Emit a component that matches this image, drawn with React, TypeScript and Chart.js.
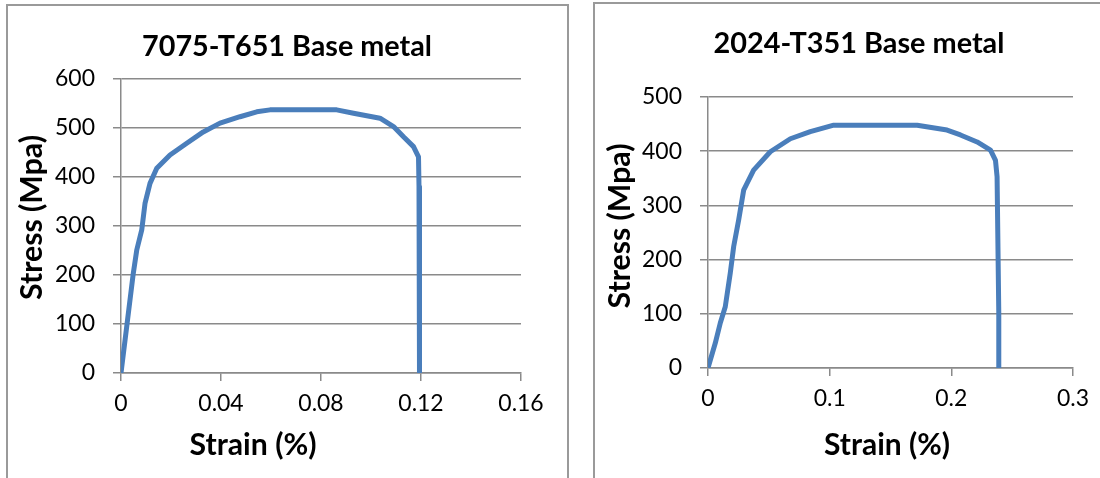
import React, { useEffect, useRef } from 'react';
import { Chart, registerables } from 'chart.js';

Chart.register(...registerables);

// ---- data: 7075-T651 ----
const strain7075 = [0, 0.0049, 0.0063, 0.0083, 0.0096, 0.0116, 0.0143, 0.0196, 0.0263, 0.0329, 0.0396, 0.0476, 0.0543, 0.0596, 0.0716, 0.0863, 0.093, 0.1036, 0.109, 0.113, 0.117, 0.119, 0.1192, 0.1194];
const stress7075 = [0, 203, 251, 292, 346, 387, 418, 445, 469, 492, 510, 523, 533, 537, 537, 537, 530, 520, 503, 482, 462, 441, 380, 0];
const xTicks7075 = [0, 0.04, 0.08, 0.12, 0.16];
const xTickLabels7075 = ['0', '0.04', '0.08', '0.12', '0.16'];
const yTicks7075 = [0, 100, 200, 300, 400, 500, 600];
const yTickLabels7075 = ['0', '100', '200', '300', '400', '500', '600'];
const title7075 = '7075-T651 Base metal';

// ---- data: 2024-T351 ----
const strain2024 = [0, 0.006, 0.0101, 0.0142, 0.0183, 0.0211, 0.0252, 0.0293, 0.0375, 0.0512, 0.0677, 0.0841, 0.1033, 0.1719, 0.1965, 0.2075, 0.2212, 0.2322, 0.2363, 0.2376, 0.239, 0.239];
const stress2024 = [0, 46, 83, 113, 175, 224, 273, 328, 365, 399, 423, 436, 448, 448, 439, 430, 417, 402, 383, 353, 101, 0];
const xTicks2024 = [0, 0.1, 0.2, 0.3];
const xTickLabels2024 = ['0', '0.1', '0.2', '0.3'];
const yTicks2024 = [0, 100, 200, 300, 400, 500];
const yTickLabels2024 = ['0', '100', '200', '300', '400', '500'];
const title2024 = '2024-T351 Base metal';

const xTitle = 'Strain (%)';
const yTitle = 'Stress (Mpa)';

const FONT = 'Lato, "Open Sans", sans-serif';
const GRID = '#8a8a8a';
const LINE = '#4a7ebb';

function fitSize(ctx: CanvasRenderingContext2D, text: string, weight: string, target: number) {
  ctx.save();
  ctx.font = `${weight} 100px ${FONT}`;
  const w = ctx.measureText(text).width;
  ctx.restore();
  return (100 * target) / w;
}

type TitleItem = { text: string; x: number; y: number; width: number; rotate?: boolean };

function makeTitlePlugin(items: TitleItem[]) {
  return {
    id: 'textTitles',
    afterDraw(chart: any) {
      const ctx: CanvasRenderingContext2D = chart.ctx;
      ctx.save();
      ctx.fillStyle = '#000';
      ctx.textAlign = 'center';
      ctx.textBaseline = 'alphabetic';
      for (const t of items) {
        const size = fitSize(ctx, t.text, 'bold', t.width);
        ctx.font = `bold ${size}px ${FONT}`;
        ctx.save();
        ctx.translate(t.x, t.y);
        if (t.rotate) ctx.rotate(-Math.PI / 2);
        ctx.fillText(t.text, 0, 0);
        ctx.restore();
      }
      ctx.restore();
    },
  };
}

type Cfg = {
  strain: number[];
  stress: number[];
  xTicks: number[];
  xLabels: string[];
  yTicks: number[];
  yLabels: string[];
  W: number;
  H: number;
  area: { left: number; top: number; right: number; bottom: number };
  titles: TitleItem[];
  tickSize: number;
};

function buildChart(canvas: HTMLCanvasElement, c: Cfg) {
  const points = c.strain.map((s, i) => ({ x: s, y: c.stress[i] }));
  const tickFont = { family: FONT, size: c.tickSize, weight: 'normal' as const };
  return new Chart(canvas, {
    type: 'scatter',
    data: {
      datasets: [
        {
          data: points,
          showLine: true,
          borderColor: LINE,
          backgroundColor: LINE,
          borderWidth: 5,
          pointRadius: 0,
          pointHoverRadius: 0,
          tension: 0,
          borderJoinStyle: 'round',
          borderCapStyle: 'round',
          fill: false,
        },
      ],
    },
    options: {
      animation: false,
      responsive: false,
      maintainAspectRatio: false,
      events: [],
      layout: { padding: { left: 0, top: c.area.top, right: c.W - c.area.right, bottom: 0 } },
      plugins: { legend: { display: false }, tooltip: { enabled: false }, title: { display: false } },
      scales: {
        x: {
          type: 'linear',
          min: c.xTicks[0],
          max: c.xTicks[c.xTicks.length - 1],
          afterBuildTicks: (axis: any) => {
            axis.ticks = c.xTicks.map((v) => ({ value: v }));
          },
          afterFit: (axis: any) => {
            axis.height = c.H - c.area.bottom;
          },
          ticks: {
            autoSkip: false,
            maxRotation: 0,
            minRotation: 0,
            padding: 9,
            color: '#000',
            font: tickFont,
            callback: (_v: any, i: number) => c.xLabels[i],
          },
          grid: { drawOnChartArea: false, drawTicks: true, tickLength: 8, color: GRID, lineWidth: 1.5 },
          border: { display: true, color: GRID, width: 1.5 },
        },
        y: {
          type: 'linear',
          min: c.yTicks[0],
          max: c.yTicks[c.yTicks.length - 1],
          afterBuildTicks: (axis: any) => {
            axis.ticks = c.yTicks.map((v) => ({ value: v }));
          },
          afterFit: (axis: any) => {
            axis.width = c.area.left;
          },
          ticks: {
            autoSkip: false,
            padding: 18,
            color: '#000',
            font: tickFont,
            callback: (_v: any, i: number) => c.yLabels[i],
          },
          grid: { drawTicks: true, tickLength: 8, color: GRID, lineWidth: 1.5 },
          border: { display: true, color: GRID, width: 1.5 },
        },
      },
    },
    plugins: [makeTitlePlugin(c.titles)],
  } as any);
}

export default function App() {
  const leftRef = useRef<HTMLCanvasElement>(null);
  const rightRef = useRef<HTMLCanvasElement>(null);

  useEffect(() => {
    const m = document.createElement('canvas').getContext('2d')!;
    const tickSize = fitSize(m, '600', 'normal', 40);

    const left = buildChart(leftRef.current!, {
      strain: strain7075,
      stress: stress7075,
      xTicks: xTicks7075,
      xLabels: xTickLabels7075,
      yTicks: yTicks7075,
      yLabels: yTickLabels7075,
      W: 580,
      H: 478,
      area: { left: 121, top: 79, right: 521, bottom: 373 },
      tickSize,
      titles: [
        { text: title7075, x: 287, y: 56, width: 290 },
        { text: xTitle, x: 253, y: 455, width: 127 },
        { text: yTitle, x: 42, y: 217.5, width: 165, rotate: true },
      ],
    });
    const right = buildChart(rightRef.current!, {
      strain: strain2024,
      stress: stress2024,
      xTicks: xTicks2024,
      xLabels: xTickLabels2024,
      yTicks: yTicks2024,
      yLabels: yTickLabels2024,
      W: 520,
      H: 478,
      area: { left: 128, top: 97, right: 493, bottom: 368 },
      tickSize,
      titles: [
        { text: title2024, x: 279, y: 53, width: 291 },
        { text: xTitle, x: 307, y: 455, width: 126 },
        { text: yTitle, x: 50, y: 226, width: 165, rotate: true },
      ],
    });
    return () => {
      left.destroy();
      right.destroy();
    };
  }, []);

  return (
    <div
      style={{
        position: 'absolute',
        left: 0,
        top: 0,
        width: 1100,
        height: 478,
        overflow: 'hidden',
        background: '#fff',
      }}
    >
      <div
        style={{
          position: 'absolute',
          left: 6,
          top: 4,
          width: 563,
          height: 520,
          boxSizing: 'border-box',
          borderLeft: '2px solid #9a9a9a',
          borderTop: '2px solid #9a9a9a',
          borderRight: '2px solid #9a9a9a',
        }}
      />
      <div
        style={{
          position: 'absolute',
          left: 593,
          top: 2,
          width: 600,
          height: 520,
          boxSizing: 'border-box',
          borderLeft: '2px solid #9a9a9a',
          borderTop: '2px solid #9a9a9a',
        }}
      />
      <canvas
        ref={leftRef}
        width={580}
        height={478}
        style={{ position: 'absolute', left: 0, top: 0, width: 580, height: 478 }}
      />
      <canvas
        ref={rightRef}
        width={520}
        height={478}
        style={{ position: 'absolute', left: 580, top: 0, width: 520, height: 478 }}
      />
    </div>
  );
}
